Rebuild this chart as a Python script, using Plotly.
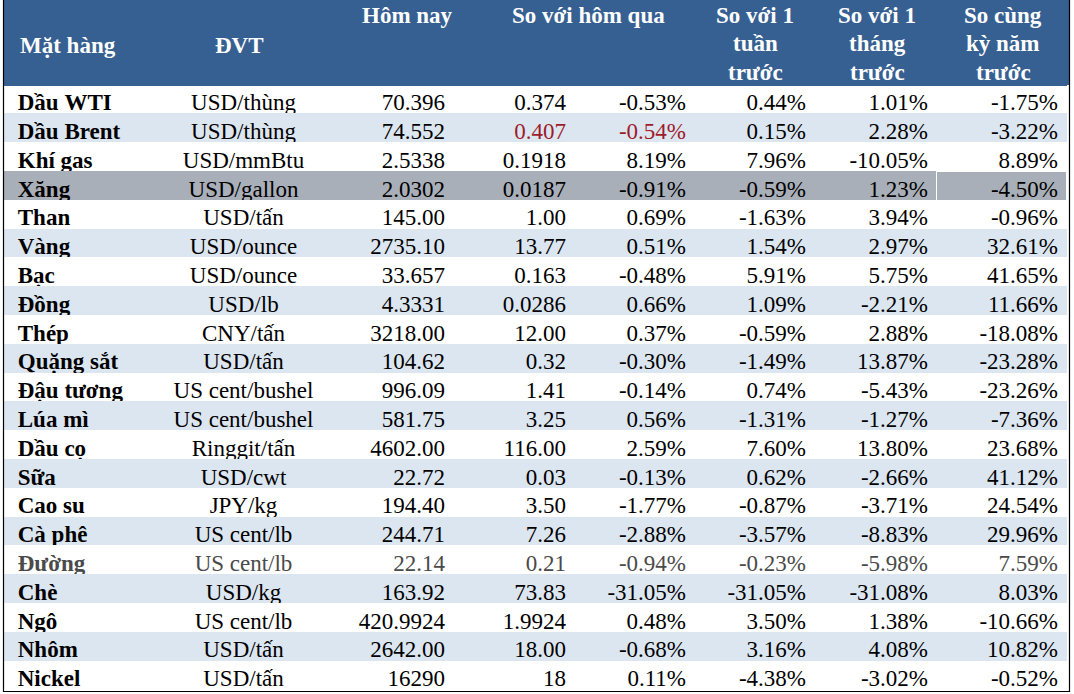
import plotly.graph_objects as go

W, H = 1074, 694

# ---------------- data ----------------
commodities = ["Dầu WTI", "Dầu Brent", "Khí gas", "Xăng", "Than", "Vàng", "Bạc", "Đồng", "Thép",
               "Quặng sắt", "Đậu tương", "Lúa mì", "Dầu cọ", "Sữa", "Cao su", "Cà phê", "Đường",
               "Chè", "Ngô", "Nhôm", "Nickel"]
units = ["USD/thùng", "USD/thùng", "USD/mmBtu", "USD/gallon", "USD/tấn", "USD/ounce", "USD/ounce",
         "USD/lb", "CNY/tấn", "USD/tấn", "US cent/bushel", "US cent/bushel", "Ringgit/tấn", "USD/cwt",
         "JPY/kg", "US cent/lb", "US cent/lb", "USD/kg", "US cent/lb", "USD/tấn", "USD/tấn"]
price_today = ["70.396", "74.552", "2.5338", "2.0302", "145.00", "2735.10", "33.657", "4.3331",
               "3218.00", "104.62", "996.09", "581.75", "4602.00", "22.72", "194.40", "244.71",
               "22.14", "163.92", "420.9924", "2642.00", "16290"]
change_day = ["0.374", "0.407", "0.1918", "0.0187", "1.00", "13.77", "0.163", "0.0286", "12.00",
              "0.32", "1.41", "3.25", "116.00", "0.03", "3.50", "7.26", "0.21", "73.83", "1.9924",
              "18.00", "18"]
pct_day = [-0.53, -0.54, 8.19, -0.91, 0.69, 0.51, -0.48, 0.66, 0.37, -0.30, -0.14, 0.56, 2.59,
           -0.13, -1.77, -2.88, -0.94, -31.05, 0.48, -0.68, 0.11]
pct_week = [0.44, 0.15, 7.96, -0.59, -1.63, 1.54, 5.91, 1.09, -0.59, -1.49, 0.74, -1.31, 7.60,
            0.62, -0.87, -3.57, -0.23, -31.05, 3.50, 3.16, -4.38]
pct_month = [1.01, 2.28, -10.05, 1.23, 3.94, 2.97, 5.75, -2.21, 2.88, 13.87, -5.43, -1.27, 13.80,
             -2.66, -3.71, -8.83, -5.98, -31.08, 1.38, 4.08, -3.02]
pct_year = [-1.75, -3.22, 8.89, -4.50, -0.96, 32.61, 41.65, 11.66, -18.08, -23.28, -23.26, -7.36,
            23.68, 41.12, 24.54, 29.96, 7.59, 8.03, -10.66, 10.82, -0.52]

# header labels, one list of lines per header cell
header_labels = [["Mặt hàng"], ["ĐVT"], ["Hôm nay"], ["So với hôm qua"],
                 ["So với 1", "tuần", "trước"], ["So với 1", "tháng", "trước"],
                 ["So cùng", "kỳ năm", "trước"]]

# ---------------- styling ----------------
FONT = "Liberation Serif"
FS = 23
HEADER_BLUE = "#376092"
LIGHT_BLUE = "#DCE6F1"
GRAY_ROW = "#A9AFB8"
RED = "#9E1B2A"

col_edges = [4, 160, 327, 453, 574, 694, 814, 936, 1066]
col_widths = [col_edges[i + 1] - col_edges[i] for i in range(len(col_edges) - 1)]
header_h = 85
row_h = 28.8
n = len(commodities)
ncol = 8

NB = "\u00a0"


def nb(s):
    return s.replace(" ", NB)


def pct(v):
    return f"{v:.2f}%"


columns = [
    [NB + nb(s) for s in commodities],
    [nb(s) for s in units],
    price_today,
    change_day,
    [pct(v) for v in pct_day],
    [pct(v) for v in pct_week],
    [pct(v) for v in pct_month],
    [pct(v) for v in pct_year],
]

row_fill = []
for i, name in enumerate(commodities):
    if name == "Xăng":
        row_fill.append(GRAY_ROW)
    elif i % 2 == 1:
        row_fill.append(LIGHT_BLUE)
    else:
        row_fill.append("white")

fill_colors = [list(row_fill) for _ in range(ncol)]
line_colors = [list(row_fill) for _ in range(ncol)]
# thin white separator in the grey row before the last column
line_colors[7][commodities.index("Xăng")] = "white"

font_colors = []
for c in range(ncol):
    col = []
    for i, name in enumerate(commodities):
        if name == "Đường":
            col.append("#4a4a4a")
        elif name == "Dầu Brent" and c in (3, 4):
            col.append(RED)
        else:
            col.append("black")
    font_colors.append(col)

fig = go.Figure(go.Table(
    domain=dict(x=[col_edges[0] / W, col_edges[-1] / W],
                y=[1 - (header_h + n * row_h) / H, 1]),
    columnwidth=col_widths,
    header=dict(values=[""] * ncol, height=header_h,
                fill_color=HEADER_BLUE, line=dict(color=HEADER_BLUE, width=1)),
    cells=dict(values=columns, height=row_h,
               align=["left", "center"] + ["right"] * 6,
               fill_color=fill_colors,
               line=dict(color=line_colors, width=1),
               font=dict(family=FONT, size=FS, color=font_colors,
                         weight=["bold"] + ["normal"] * 7)),
))

# header text (x px, anchor, centre y px of first line)
hdr_pos = [
    (18, "left", 45),
    (240, "center", 45),
    (407, "center", 15),
    (588, "center", 15),
    (755, "center", 15),
    (877, "center", 15),
    (1003, "center", 15),
]
line_step = 28.5
for lines, (x, anc, y0) in zip(header_labels, hdr_pos):
    for k, txt in enumerate(lines):
        fig.add_annotation(x=x / W, y=1 - (y0 + k * line_step) / H, xref="paper", yref="paper",
                           text=txt, showarrow=False, xanchor=anc, yanchor="middle",
                           font=dict(family=FONT, size=FS, color="white", weight="bold"))

# header strip to right edge and outer border
fig.add_shape(type="rect", xref="paper", yref="paper",
              x0=1066 / W, x1=1070 / W, y0=1 - header_h / H, y1=1,
              fillcolor=HEADER_BLUE, line=dict(width=0), layer="above")
fig.add_shape(type="rect", xref="paper", yref="paper",
              x0=3.5 / W, x1=1069.5 / W, y0=1 - 691.5 / H, y1=1.01,
              fillcolor="rgba(0,0,0,0)", line=dict(color="black", width=1.2), layer="above")

fig.update_layout(width=W, height=H, margin=dict(l=0, r=0, t=0, b=0),
                  paper_bgcolor="white", plot_bgcolor="white")

fig.write_html("out.html", config={"displayModeBar": False},
               post_script="document.body.style.margin='0';document.body.style.padding='0';")
